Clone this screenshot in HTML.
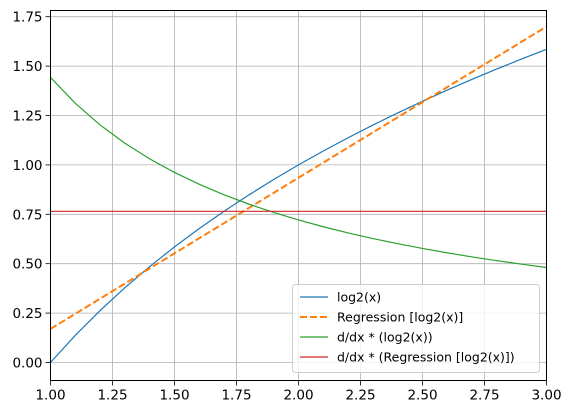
<!DOCTYPE html>
<html><head><meta charset="utf-8"><style>
html,body{margin:0;padding:0;background:#fff;}
svg{display:block;font-family:"DejaVu Sans","Liberation Sans",sans-serif;}
</style></head><body>
<svg id="chart" width="571" height="413"></svg>
<script>
const xs = [1,1.1,1.2,1.3,1.4,1.5,1.6,1.7,1.8,1.9,2,2.1,2.2,2.3,2.4,2.5,2.6,2.7,2.8,2.9,3];
const log2Vals = [0,0.1375,0.2630,0.3785,0.4854,0.5850,0.6781,0.7655,0.8480,0.9260,1,1.0704,1.1375,1.2016,1.2630,1.3219,1.3785,1.4330,1.4854,1.5361,1.5850];
const derivVals = [1.4427,1.3116,1.2023,1.1098,1.0305,0.9618,0.9017,0.8487,0.8015,0.7593,0.7213,0.6870,0.6558,0.6273,0.6011,0.5771,0.5549,0.5343,0.5152,0.4975,0.4809];
const regX = [1,3];
const regVals = [0.170,1.700];
const regDerivVals = [0.765,0.765];
const xTicks = [1,1.25,1.5,1.75,2,2.25,2.5,2.75,3];
const xTickLabels = ["1.00","1.25","1.50","1.75","2.00","2.25","2.50","2.75","3.00"];
const yTicks = [0,0.25,0.5,0.75,1,1.25,1.5,1.75];
const yTickLabels = ["0.00","0.25","0.50","0.75","1.00","1.25","1.50","1.75"];
const legendLabels = ["log2(x)","Regression [log2(x)]","d/dx * (log2(x))","d/dx * (Regression [log2(x)])"];

const NS="http://www.w3.org/2000/svg";
const svg=document.getElementById('chart');
const L=50.5,R=546.5,T=10.5,B=380.5;
const X=v=>L+(v-1)/2*(R-L);
const Y=v=>362.5-v*197.6;
function mk(tag,attrs,parent){const e=document.createElementNS(NS,tag);for(const k in attrs)e.setAttribute(k,attrs[k]);(parent||svg).appendChild(e);return e;}

xTicks.forEach((t,i)=>{
  const g=mk('line',{x1:X(t),x2:X(t),y1:T,y2:B,stroke:'#b0b0b0','stroke-width':0.8});
  
  
  const tk=mk('line',{x1:X(t),x2:X(t),y1:B,y2:B+5,stroke:'#000','stroke-width':0.8});
  
  
  const tx=mk('text',{x:X(t),y:B+19,'font-size':13.5,'text-anchor':'middle',fill:'#000'});
  tx.textContent=xTickLabels[i];
  
  
});
yTicks.forEach((t,i)=>{
  const g=mk('line',{x1:L,x2:R,y1:Y(t),y2:Y(t),stroke:'#b0b0b0','stroke-width':0.8});
  
  
  const tk=mk('line',{x1:L-5,x2:L,y1:Y(t),y2:Y(t),stroke:'#000','stroke-width':0.8});
  
  
  const tx=mk('text',{x:L-8,y:Y(t)+5,'font-size':13.5,'text-anchor':'end',fill:'#000'});
  tx.textContent=yTickLabels[i];
  
  
});

const clip=mk('clipPath',{id:'pc'});mk('rect',{x:L,y:T,width:R-L,height:B-T},clip);
function line(xv,yv,color,dash,w,name){
  const p=mk('polyline',{points:xv.map((x,i)=>X(x)+','+Y(yv[i])).join(' '),fill:'none',stroke:color,'stroke-width':w,'clip-path':'url(#pc)'});
  if(dash)p.setAttribute('stroke-dasharray',dash);
  
  
}
line(xs,log2Vals,'#1f77b4',null,1.2,'log2-line');
line(regX,regVals,'#ff7f0e','7,3',2,'regression-line');
line(xs,derivVals,'#2ca02c',null,1.2,'derivative-line');
line(regX,regDerivVals,'#d62728',null,1.2,'regression-derivative-line');

const frame=mk('rect',{x:L,y:T,width:R-L,height:B-T,fill:'none',stroke:'#000','stroke-width':1});



const lg=mk('g',{});


mk('rect',{x:292.5,y:284.5,width:247,height:88,rx:3,fill:'#fff','fill-opacity':0.8,stroke:'#cccccc','stroke-width':1},lg);
const colors=['#1f77b4','#ff7f0e','#2ca02c','#d62728'];
legendLabels.forEach((lab,i)=>{
  const y=297+i*20;
  const s=mk('line',{x1:300,x2:328,y1:y,y2:y,stroke:colors[i],'stroke-width':i==1?2:1.2},lg);
  if(i==1)s.setAttribute('stroke-dasharray','7,3');
  
  
  const t=mk('text',{x:337,y:y+4.5,'font-size':12.5,fill:'#000'},lg);
  t.textContent=lab;
  
  
});
</script>
</body></html>
